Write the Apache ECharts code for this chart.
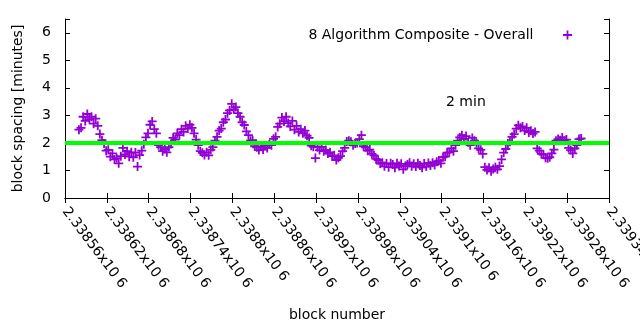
<!DOCTYPE html>
<html>
<head>
<meta charset="utf-8">
<script src="https://cdn.jsdelivr.net/npm/echarts@6/dist/echarts.min.js"></script>
<style>
  html, body { margin: 0; padding: 0; background: #fff; }
  #chart { width: 640px; height: 330px; }
</style>
</head>
<body>
<div id="chart"></div>
<script>
// Block range shown on the x axis and tick spacing (blocks)
const xMin = 2338560;
const xMax = 2339340;
const xStep = 60;
const xTickLabels = [
  '2.33856x10 6', '2.33862x10 6', '2.33868x10 6', '2.33874x10 6',
  '2.3388x10 6', '2.33886x10 6', '2.33892x10 6', '2.33898x10 6',
  '2.33904x10 6', '2.3391x10 6', '2.33916x10 6', '2.33922x10 6',
  '2.33928x10 6', '2.33934x10 6'
];
const yTickLabels = ['0', '1', '2', '3', '4', '5', '6'];

// Averaged block spacing (minutes), one sample every 3 blocks starting at firstBlock
const firstBlock = 2338580;
const blockStep = 3;
const spacing = [
  2.48, 2.55, 2.95, 2.80, 3.05, 2.86, 2.95, 2.70, 2.88, 2.62,
  2.32, 2.10, 1.98, 1.72, 1.75, 1.50, 1.62, 1.40, 1.45, 1.26,
  1.52, 1.82, 1.58, 1.70, 1.50, 1.66, 1.48, 1.65, 1.14, 1.56,
  1.72, 1.95, 2.20, 2.35, 2.66, 2.78, 2.50, 2.35, 1.92, 1.85,
  1.70, 1.78, 1.66, 1.85, 1.96, 2.18, 2.12, 2.35, 2.28, 2.50,
  2.40, 2.62, 2.52, 2.66, 2.55, 2.35, 2.12, 1.92, 1.70, 1.64,
  1.56, 1.66, 1.55, 1.75, 1.85, 2.08, 2.22, 2.45, 2.52, 2.75,
  2.85, 3.08, 3.18, 3.42, 3.22, 3.30, 3.08, 2.95, 2.75, 2.65,
  2.42, 2.28, 2.08, 2.10, 1.88, 1.84, 1.74, 1.86, 1.76, 1.90,
  1.82, 1.95, 1.92, 2.15, 2.22, 2.58, 2.70, 2.92, 2.78, 2.95,
  2.72, 2.60, 2.80, 2.48, 2.62, 2.40, 2.50, 2.35, 2.45, 2.26,
  2.18, 1.90, 1.86, 1.45, 1.84, 1.74, 1.86, 1.70, 1.74, 1.62,
  1.66, 1.52, 1.55, 1.38, 1.46, 1.52, 1.70, 1.82, 2.05, 2.08,
  2.04, 1.92, 1.98, 2.00, 2.14, 2.28, 1.88, 1.84, 1.72, 1.76,
  1.60, 1.55, 1.42, 1.38, 1.25, 1.28, 1.15, 1.25, 1.12, 1.26,
  1.22, 1.10, 1.26, 1.16, 1.24, 1.04, 1.16, 1.22, 1.28, 1.15,
  1.24, 1.14, 1.26, 1.18, 1.10, 1.25, 1.14, 1.27, 1.18, 1.28,
  1.20, 1.32, 1.36, 1.26, 1.48, 1.50, 1.65, 1.66, 1.80, 1.70,
  1.92, 2.08, 2.20, 2.28, 2.15, 2.25, 2.02, 1.92, 2.18, 2.08,
  2.00, 1.80, 1.75, 1.60, 1.12, 1.02, 1.10, 0.97, 1.05, 1.12,
  1.04, 1.16, 1.40, 1.65, 1.78, 1.98, 2.04, 2.22, 2.32, 2.52,
  2.64, 2.55, 2.60, 2.45, 2.55, 2.38, 2.44, 2.34, 2.40, 1.80,
  1.72, 1.60, 1.58, 1.46, 1.44, 1.48, 1.62, 1.76, 2.08, 2.14,
  2.10, 2.20, 2.08, 2.12, 1.82, 1.74, 1.62, 1.80, 1.92, 2.14,
  2.16
];

// Target spacing line
const targetMinutes = 2;
const targetLabel = '2 min';
const seriesName = '8 Algorithm Composite - Overall';

const purple = '#9400d3';
const green = '#00ff00';
const font = 'DejaVu Sans';
const plusIcon = 'path://M4,0H6V4H10V6H6V10H4V6H0V4H4Z';

const points = spacing.map((v, i) => [firstBlock + i * blockStep, v]);

const tickStyle = { show: true, inside: true, length: 5, lineStyle: { color: '#000', width: 1 } };
const lineStyle = { show: true, lineStyle: { color: '#000', width: 1 } };

const chart = echarts.init(document.getElementById('chart'), null, { renderer: 'canvas' });
chart.setOption({
  animation: false,
  backgroundColor: '#fff',
  textStyle: { fontFamily: font },
  grid: { left: 65, right: 31, top: 19, bottom: 132, containLabel: false, outerBoundsMode: 'none' },
  legend: {
    data: [{ name: seriesName, icon: plusIcon }],
    right: 63,
    top: 23,
    align: 'right',
    itemWidth: 58,
    itemHeight: 9,
    symbolKeepAspect: true,
    textStyle: { fontFamily: font, fontSize: 14, color: '#000' },
    itemStyle: { color: purple }
  },
  xAxis: [
    {
      type: 'value', min: xMin, max: xMax, interval: xStep,
      name: 'block number', nameLocation: 'middle', nameGap: 110,
      nameTextStyle: { fontFamily: font, fontSize: 14, color: '#000' },
      axisLine: lineStyle, axisTick: tickStyle, splitLine: { show: false },
      axisLabel: {
        rotate: -53, margin: 11, fontFamily: font, fontSize: 14, color: '#000',
        showMinLabel: true, showMaxLabel: true, hideOverlap: false,
        formatter: v => xTickLabels[Math.round((v - xMin) / xStep)]
      }
    },
    {
      type: 'value', position: 'top', min: xMin, max: xMax, interval: xStep,
      axisLine: lineStyle, axisTick: tickStyle, splitLine: { show: false },
      axisLabel: { show: false }
    }
  ],
  yAxis: [
    {
      type: 'value', min: 0, max: 6.5, interval: 1,
      name: 'block spacing [minutes]', nameLocation: 'middle', nameGap: 40, nameRotate: 90,
      nameTextStyle: { fontFamily: font, fontSize: 14, color: '#000' },
      axisLine: lineStyle, axisTick: tickStyle, splitLine: { show: false },
      axisLabel: {
        margin: 14, fontFamily: font, fontSize: 14, color: '#000',
        formatter: v => yTickLabels[Math.round(v)] ?? ''
      }
    },
    {
      type: 'value', position: 'right', min: 0, max: 6.5, interval: 1,
      axisLine: lineStyle, axisTick: tickStyle, splitLine: { show: false },
      axisLabel: { show: false }
    }
  ],
  graphic: [{
    type: 'text', left: 446, top: 95,
    style: { text: targetLabel, fontFamily: font, fontSize: 14, fill: '#000' }
  }],
  series: [
    {
      name: seriesName,
      type: 'scatter',
      data: points,
      symbol: plusIcon,
      symbolSize: 9,
      itemStyle: { color: purple, opacity: 1 },
      z: 2
    },
    {
      name: 'target',
      type: 'line',
      data: [[xMin, targetMinutes], [xMax, targetMinutes]],
      symbol: 'none',
      lineStyle: { color: green, width: 4 },
      z: 3
    }
  ]
});
</script>
</body>
</html>
